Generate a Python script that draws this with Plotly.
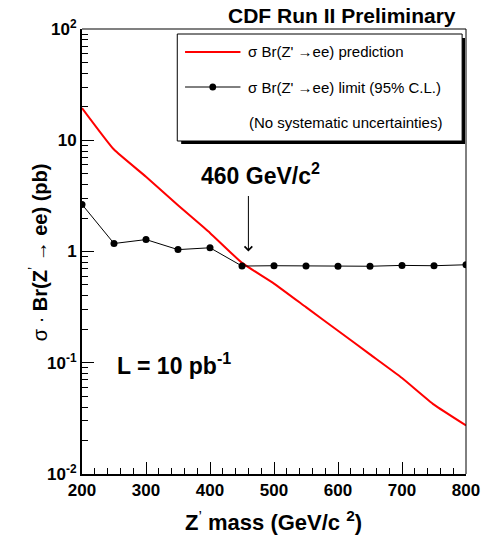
import plotly.graph_objects as go

# Z' mass points (GeV/c^2)
mass = [200, 250, 300, 350, 400, 450, 500, 550, 600, 650, 700, 750, 800]
# theoretical sigma*Br prediction (pb)
prediction = [19.5, 8.25, 4.7, 2.6, 1.47, 0.79, 0.515, 0.316, 0.194, 0.119, 0.073, 0.042, 0.0273]
# 95% C.L. upper limit (pb)
limit = [2.65, 1.18, 1.28, 1.04, 1.08, 0.74, 0.745, 0.74, 0.737, 0.737, 0.75, 0.745, 0.76]

y_major = [0.01, 0.1, 1, 10, 100]
y_major_text = ["10<sup>-2</sup>", "10<sup>-1</sup>", "1", "10", "10<sup>2</sup>"]
y_minor = [m * d for d in (0.01, 0.1, 1, 10) for m in range(2, 10)]

legend_labels = ["σ Br(Z' →ee) prediction",
                 "σ Br(Z' →ee) limit (95% C.L.)",
                 "(No systematic uncertainties)"]

cross_mass = 460
cross_label = "460 GeV/c<sup>2</sup>"
lumi_label = "L = 10 pb<sup>-1</sup>"

FONT = "Liberation Sans, Arial, Helvetica, sans-serif"
W, H = 492, 536
ML, MR, MT, MB = 82, 15, 29, 62


def px_x(p):
    return (p - ML) / float(W - ML - MR)


def px_y(p):
    return (H - MB - p) / float(H - MT - MB)


fig = go.Figure()

fig.add_trace(go.Scatter(
    x=mass, y=prediction, mode="lines",
    line=dict(color="#ff0000", width=2, shape="spline", smoothing=0.4),
    name=legend_labels[0], showlegend=False,
))
fig.add_trace(go.Scatter(
    x=mass, y=limit, mode="lines+markers",
    line=dict(color="black", width=1),
    marker=dict(color="black", size=7),
    name=legend_labels[1], showlegend=False,
))

shapes = [
    # frame: grey top edge and thin right edge
    dict(type="line", xref="paper", yref="paper", x0=0, x1=1, y0=1, y1=1,
         line=dict(color="#808080", width=2)),
    dict(type="line", xref="paper", yref="paper", x0=1, x1=1, y0=0, y1=1,
         line=dict(color="black", width=1)),
    # legend box with drop shadow
    dict(type="rect", xref="paper", yref="paper",
         x0=px_x(184), x1=px_x(476), y0=px_y(144), y1=px_y(38),
         line=dict(width=0), fillcolor="black"),
    dict(type="rect", xref="paper", yref="paper",
         x0=px_x(180), x1=px_x(473), y0=px_y(141), y1=px_y(34),
         line=dict(color="black", width=1), fillcolor="white"),
    # legend keys
    dict(type="line", xref="paper", yref="paper",
         x0=px_x(188), x1=px_x(245), y0=px_y(52), y1=px_y(52),
         line=dict(color="#ff0000", width=2)),
    dict(type="line", xref="paper", yref="paper",
         x0=px_x(188), x1=px_x(245), y0=px_y(87), y1=px_y(87),
         line=dict(color="black", width=1)),
    dict(type="circle", xref="paper", yref="paper",
         x0=px_x(213), x1=px_x(220), y0=px_y(90.5), y1=px_y(83.5),
         line=dict(color="black", width=0), fillcolor="black"),
]

annotations = [
    dict(text="<b>CDF Run II Preliminary</b>", xref="paper", yref="paper",
         x=px_x(469), y=px_y(15), xanchor="right", yanchor="middle",
         showarrow=False, font=dict(size=21, color="black", family=FONT)),
    dict(text=legend_labels[0], xref="paper", yref="paper",
         x=px_x(251), y=px_y(52), xanchor="left", yanchor="middle",
         showarrow=False, font=dict(size=15, color="black", family=FONT)),
    dict(text=legend_labels[1], xref="paper", yref="paper",
         x=px_x(251), y=px_y(87), xanchor="left", yanchor="middle",
         showarrow=False, font=dict(size=15, color="black", family=FONT)),
    dict(text=legend_labels[2], xref="paper", yref="paper",
         x=px_x(252), y=px_y(123), xanchor="left", yanchor="middle",
         showarrow=False, font=dict(size=15, color="black", family=FONT)),
    dict(text="<b>" + cross_label + "</b>", xref="paper", yref="paper",
         x=px_x(266), y=px_y(174), xanchor="center", yanchor="middle",
         showarrow=False, font=dict(size=23, color="black", family=FONT)),
    dict(text="", x=cross_mass, y=0, xref="x", yref="y",
         showarrow=True, ax=0, ay=-57, arrowhead=4, arrowsize=1.5,
         arrowwidth=1, arrowcolor="black"),
    dict(text="<b>" + lumi_label + "</b>", xref="paper", yref="paper",
         x=px_x(116), y=px_y(364), xanchor="left", yanchor="middle",
         showarrow=False, font=dict(size=23, color="black", family=FONT)),
    dict(text="σ · <b>Br(Z</b><sup>’</sup> → <b>ee) (pb)</b>", xref="paper", yref="paper",
         x=px_x(37), y=px_y(252), xanchor="center", yanchor="middle", textangle=-90,
         showarrow=False, font=dict(size=20, color="black", family=FONT)),
    dict(text="<b>Z</b><sup>’</sup> <b>mass (GeV/c <sup>2</sup>)</b>", xref="paper", yref="paper",
         x=px_x(279), y=px_y(521), xanchor="center", yanchor="middle",
         showarrow=False, font=dict(size=22, color="black", family=FONT)),
]

fig.update_layout(
    width=W, height=H, autosize=False,
    margin=dict(l=ML, r=MR, t=MT, b=MB),
    paper_bgcolor="white", plot_bgcolor="white",
    font=dict(family=FONT, color="black"),
    showlegend=False,
    shapes=shapes,
    annotations=annotations,
)

fig.update_xaxes(
    range=[200, 800], tick0=200, dtick=100,
    showline=True, linecolor="black", linewidth=2,
    ticks="inside", ticklen=12, tickwidth=1, tickcolor="black",
    minor=dict(ticks="inside", ticklen=6, dtick=20, tickcolor="black", tickwidth=1),
    showgrid=False, zeroline=False,
    tickfont=dict(size=17, weight="bold", family=FONT),
)
fig.update_yaxes(
    type="log", range=[-2, 2],
    tickmode="array", tickvals=y_major, ticktext=y_major_text,
    showline=True, linecolor="black", linewidth=2,
    ticks="inside", ticklen=12, tickwidth=1, tickcolor="black",
    minor=dict(ticks="inside", ticklen=6, tickmode="array", tickvals=y_minor,
               tickcolor="black", tickwidth=1),
    showgrid=False, zeroline=False,
    tickfont=dict(size=17, weight="bold", family=FONT),
)

fig.write_html("out.html")
